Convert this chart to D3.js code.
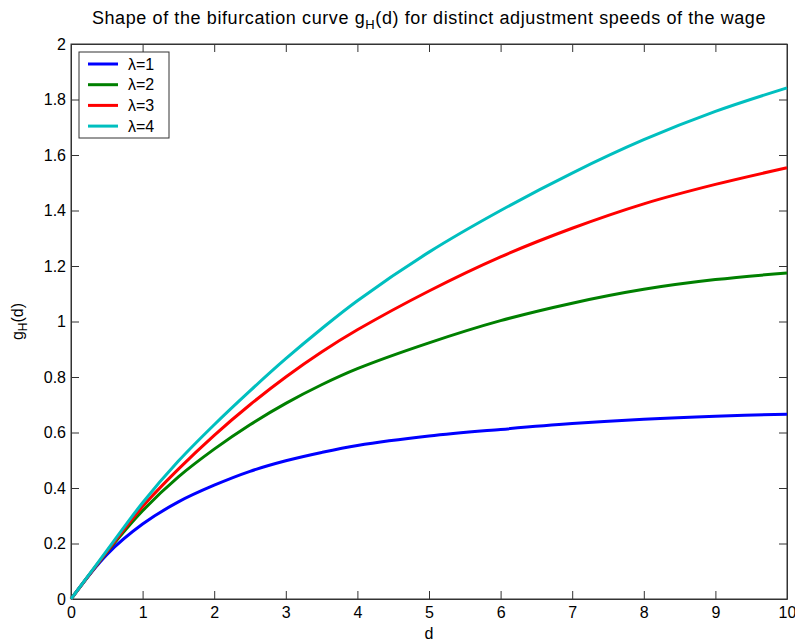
<!DOCTYPE html>
<html lang="en">
<head>
<meta charset="UTF-8">
<title>Bifurcation curve</title>
<script src="https://d3js.org/d3.v7.min.js"></script>
<style>
  body { margin: 0; background: #fff; }
  text { font-family: "Liberation Sans", Arial, sans-serif; fill: #000; }
</style>
</head>
<body>
<div id="chart"></div>
<script>
// values
const dValues = [0, 0.5, 1, 1.5, 2, 2.5, 3, 3.5, 4, 5, 6, 7, 8, 9, 10];
const lambda1 = [0, 0.16, 0.27, 0.35, 0.41, 0.46, 0.498, 0.528, 0.553, 0.587, 0.611, 0.632, 0.648, 0.659, 0.666];
const lambda2 = [0, 0.168, 0.318, 0.44, 0.54, 0.628, 0.705, 0.772, 0.83, 0.923, 1.003, 1.066, 1.116, 1.151, 1.175];
const lambda3 = [0, 0.17, 0.333, 0.468, 0.59, 0.7, 0.8, 0.89, 0.97, 1.11, 1.233, 1.336, 1.424, 1.494, 1.554];
const lambda4 = [0, 0.174, 0.347, 0.497, 0.628, 0.75, 0.866, 0.974, 1.075, 1.25, 1.4, 1.535, 1.655, 1.757, 1.842];
const seriesNames = ["\u03bb=1", "\u03bb=2", "\u03bb=3", "\u03bb=4"];
const seriesColors = ["#0000ff", "#008000", "#ff0000", "#00bfbf"];
const xTicks = [0, 1, 2, 3, 4, 5, 6, 7, 8, 9, 10];
const yTicks = [0, 0.2, 0.4, 0.6, 0.8, 1, 1.2, 1.4, 1.6, 1.8, 2];

const W = 795, H = 644;
const margin = { top: 44, right: 8, bottom: 45, left: 71 };
const width = W - margin.left - margin.right;
const height = H - margin.top - margin.bottom;
const fontFam = "'Liberation Sans', Arial, sans-serif";

const svg = d3.select("#chart").append("svg")
  .attr("width", W).attr("height", H);

const g = svg.append("g")
  .attr("transform", `translate(${margin.left},${margin.top})`);

const x = d3.scaleLinear().domain([0, 10]).range([0, width]);
const y = d3.scaleLinear().domain([0, 2]).range([height, 0]);

const axisColor = "#333";
const tickLen = 8;

// frame
g.append("rect")
  .attr("x", 0).attr("y", 0)
  .attr("width", width).attr("height", height)
  .attr("fill", "none").attr("stroke", axisColor).attr("stroke-width", 1);

// axes with inward ticks
g.append("g")
  .attr("transform", `translate(0,${height})`)
  .call(d3.axisBottom(x).tickValues(xTicks).tickSizeInner(-tickLen).tickSizeOuter(0).tickPadding(8).tickFormat(d3.format("d")));
g.append("g")
  .call(d3.axisLeft(y).tickValues(yTicks).tickSizeInner(-tickLen).tickSizeOuter(0).tickPadding(5).tickFormat(d => String(+d.toFixed(1))));
// top and right ticks
g.append("g")
  .call(d3.axisTop(x).tickValues(xTicks).tickSizeInner(-tickLen).tickSizeOuter(0).tickFormat(""));
g.append("g")
  .attr("transform", `translate(${width},0)`)
  .call(d3.axisRight(y).tickValues(yTicks).tickSizeInner(-tickLen).tickSizeOuter(0).tickFormat(""));

g.selectAll(".domain").attr("stroke", axisColor);
g.selectAll(".tick line").attr("stroke", axisColor);
g.selectAll(".tick text")
  .style("font-family", fontFam)
  .style("font-size", "16px").attr("fill", "#000");

// curves
const allSeries = [lambda1, lambda2, lambda3, lambda4];
const line = d3.line()
  .x((d, i) => x(dValues[i]))
  .y(d => y(d))
  .curve(d3.curveCatmullRom.alpha(0.5));

g.selectAll("path.curve")
  .data(allSeries)
  .join("path")
  .attr("class", "curve")
  .attr("d", line)
  .attr("fill", "none")
  .attr("stroke", (d, i) => seriesColors[i])
  .attr("stroke-width", 3);

// legend
const legend = g.append("g").attr("transform", "translate(8,8)");
legend.append("rect")
  .attr("width", 90).attr("height", 86)
  .attr("fill", "#fff").attr("stroke", axisColor).attr("stroke-width", 1);
const item = legend.selectAll("g.item")
  .data(seriesNames)
  .join("g")
  .attr("class", "item")
  .attr("transform", (d, i) => `translate(0,${12 + i * 20.7})`);
item.append("line")
  .attr("x1", 9).attr("x2", 39)
  .attr("stroke", (d, i) => seriesColors[i])
  .attr("stroke-width", 3);
item.append("text")
  .attr("x", 49).attr("dy", "0.35em")
  .style("font-size", "16px")
  .text(d => d);

// title
const title = svg.append("text")
  .attr("x", margin.left + width / 2).attr("y", 24)
  .attr("text-anchor", "middle")
  .style("font-size", "18px").style("letter-spacing", "0.6px");
title.append("tspan").text("Shape of the bifurcation curve g");
title.append("tspan").style("font-size", "13px").attr("dy", 5).text("H");
title.append("tspan").attr("dy", -5).text("(d) for distinct adjustment speeds of the wage");

// axis labels
svg.append("text")
  .attr("x", margin.left + width / 2).attr("y", 639)
  .attr("text-anchor", "middle").style("font-size", "16px")
  .text("d");

const yl = svg.append("text")
  .attr("transform", `translate(23,${margin.top + height / 2}) rotate(-90)`)
  .attr("text-anchor", "middle").style("font-size", "16px");
yl.append("tspan").text("g");
yl.append("tspan").style("font-size", "12px").attr("dy", 4).text("H");
yl.append("tspan").attr("dy", -4).text("(d)");
</script>
</body>
</html>
